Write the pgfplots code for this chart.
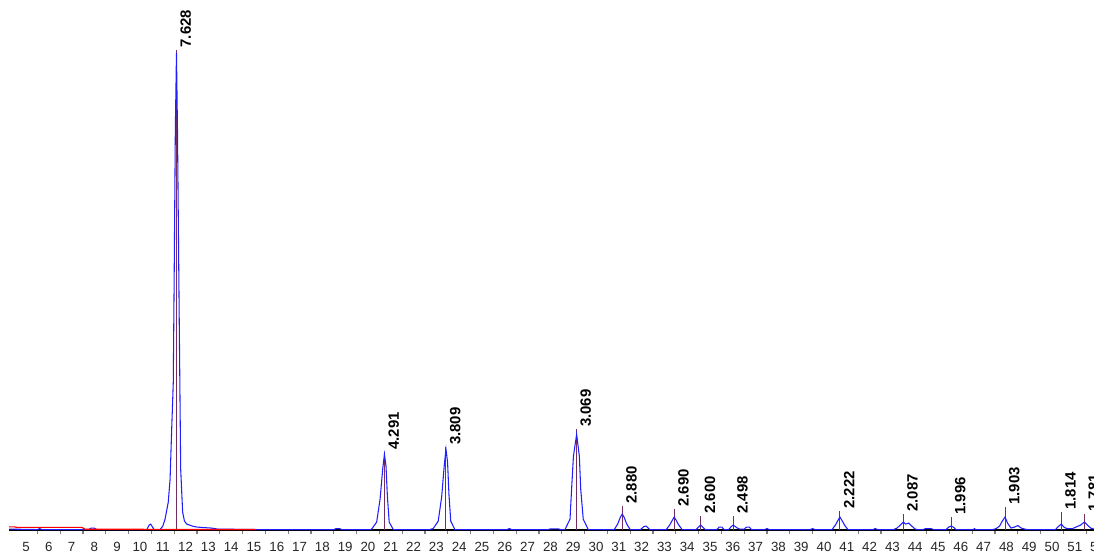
\documentclass[border=0pt]{standalone}
\usepackage{pgfplots}
\pgfplotsset{compat=1.18}
\usepackage{fontspec}
\setmainfont{Liberation Sans}
\definecolor{peakblue}{RGB}{30,30,255}
\definecolor{pkmark}{RGB}{115,45,95}
\begin{document}
\begin{tikzpicture}
\begin{axis}[
 x=17.13pt, y=0.75pt,
 xmin=4.256, xmax=52.3, ymin=0, ymax=531,
 axis x line=bottom, axis y line=none,
 x axis line style={black, line width=1.3pt, -},
 xtick={5,...,52},
 minor x tick num=1,
 major tick length=0pt, minor tick length=3pt, tick align=outside,
 minor tick style={gray, line width=0.8pt},
 xticklabel style={font=\fontsize{10}{11}\selectfont, text=black!85, yshift=-5.5pt},
 /pgf/number format/assume math mode=true,
 clip=false,
]
\addplot[ycomb, pkmark, line width=0.75pt, nodes near coords, point meta=explicit symbolic,
 every node near coord/.append style={font=\fontsize{11.2}{12}\selectfont\bfseries, text=black, xshift=2.6pt, yshift=1.5pt, rotate=90, anchor=north west, inner sep=0pt}]
 table[meta=l] {
x y l
11.60 481 7.628
20.72 78 4.291
23.42 83 3.809
29.15 101 3.069
31.15 24 2.880
33.43 21 2.690
34.59 14 2.600
36.02 14 2.498
40.70 19 2.222
43.48 16 2.087
45.57 13 1.996
47.94 23 1.903
50.41 18 1.814
51.42 16 1.781
};
\addplot[peakblue, line width=0.8pt] coordinates {
(4.26,1) (5.5,0.5) (5.6,1.5) (5.7,0.5) (7.75,0.5) (7.85,2) (8.0,2) (8.1,0.5)
(10.30,0.5) (10.40,5) (10.47,6) (10.55,3) (10.62,0.5) (10.7,0.5)
(10.88,0.5) (11.0,4) (11.10,11) (11.24,28) (11.32,51) (11.39,101) (11.46,148) (11.50,256) (11.55,401) (11.60,478) (11.645,399) (11.72,213) (11.785,61) (11.87,18) (11.95,9) (12.05,6) (12.3,4) (12.5,3) (12.8,2.5) (13.14,2) (13.4,1) (15.2,0.5)
(18.5,0.5) (18.6,1.5) (18.75,1.5) (18.85,0.5)
(20.10,0.5) (20.16,1) (20.38,8) (20.53,31) (20.645,61) (20.72,76) (20.79,64) (20.85,34) (20.93,8) (21.11,0.5)
(22.70,0.5) (22.86,1.5) (23.08,9) (23.23,33) (23.345,65) (23.42,81) (23.49,68) (23.55,36) (23.63,9) (23.81,0.5)
(26.1,0.5) (26.2,1.5) (26.3,0.5)
(27.9,0.5) (28.0,1.2) (28.35,1.2) (28.45,0.5)
(28.64,0.5) (28.86,11) (28.93,41) (29.01,74) (29.15,96) (29.27,74) (29.33,41) (29.44,11) (29.66,0.5)
(30.80,0.5) (30.95,6) (31.07,13) (31.15,16) (31.23,13) (31.35,6) (31.50,0.5)
(31.95,0.5) (32.1,3.5) (32.2,4) (32.35,0.5)
(33.08,0.5) (33.23,5) (33.35,10) (33.43,13) (33.51,10) (33.63,5) (33.78,0.5)
(34.39,0.5) (34.50,3) (34.59,5) (34.68,3) (34.79,0.5)
(35.3,0.5) (35.4,3) (35.52,3) (35.62,0.5)
(35.82,0.5) (35.93,3.5) (36.02,5) (36.11,3.5) (36.2,2) (36.3,1) (36.5,1) (36.6,3) (36.72,3) (36.82,0.5)
(37.4,0.5) (37.5,1.5) (37.6,0.5)
(39.4,0.5) (39.5,1.5) (39.6,0.5)
(40.35,0.5) (40.50,5) (40.62,10) (40.70,13) (40.78,10) (40.90,5) (41.05,0.5)
(42.15,0.5) (42.25,1.5) (42.35,0.5)
(43.05,0.5) (43.2,2) (43.35,5) (43.48,8) (43.58,6) (43.72,7) (43.85,4) (44.0,1) (44.1,0.5)
(44.35,0.5) (44.45,1.5) (44.7,1.5) (44.8,0.5)
(45.35,0.5) (45.47,3) (45.57,4) (45.67,3) (45.79,0.5)
(46.55,0.5) (46.6,1.5) (46.65,0.5)
(47.4,0.5) (47.55,1.5) (47.7,4) (47.82,9) (47.94,13) (48.05,7) (48.2,2) (48.35,3) (48.5,4.5) (48.65,2) (48.8,1) (48.9,0.5)
(50.15,0.5) (50.3,4) (50.41,6) (50.52,3) (50.65,1.5) (50.9,1.5) (51.05,3) (51.25,5) (51.42,8) (51.55,5) (51.7,2) (51.85,1) (52.3,0.5)
};
\addplot[red, line width=0.9pt] coordinates {
(4.26,3.2) (4.5,3.2) (4.6,2.7) (7.45,2.7) (7.6,0.8) (15.1,0.6)
};
\coordinate (bbl) at (axis cs:3.860,-23);
\coordinate (btr) at (axis cs:51.842,531);
\end{axis}
\pgfresetboundingbox
\path[use as bounding box] (bbl) rectangle (btr);
\end{tikzpicture}
\end{document}
